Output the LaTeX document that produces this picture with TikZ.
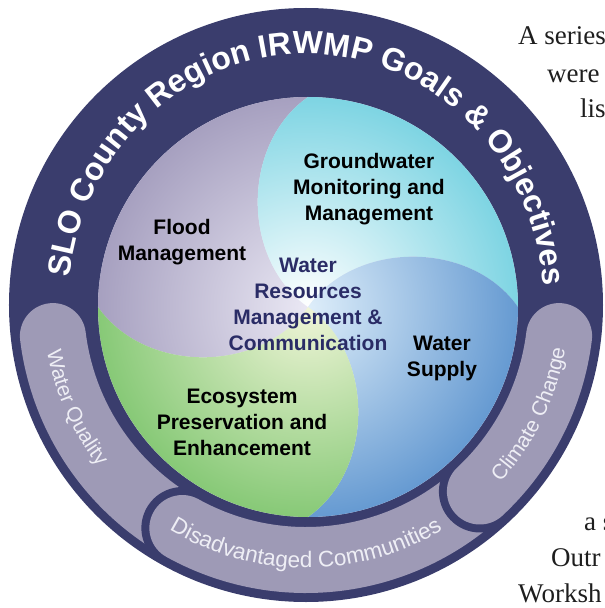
\documentclass[tikz,border=0pt]{standalone}
\usepackage{fontspec}
\setsansfont{Liberation Sans}
\newfontfamily\pagefont{Liberation Serif}
\usepackage{tikz}
\usetikzlibrary{decorations.text,positioning}

\definecolor{ringnavy}{RGB}{58,61,109}
\definecolor{bandgray}{RGB}{158,154,182}
\definecolor{bandtext}{RGB}{238,238,245}
\definecolor{floodpurple}{RGB}{128,119,162}
\definecolor{floodlight}{RGB}{234,232,244}
\definecolor{gwcyan}{RGB}{58,190,212}
\definecolor{supplyblue}{RGB}{50,118,192}
\definecolor{supplylight}{RGB}{222,238,250}
\definecolor{ecogreen}{RGB}{80,178,68}
\definecolor{ecolight}{RGB}{240,245,216}
\definecolor{centernavy}{RGB}{42,44,102}
\definecolor{pagegray}{RGB}{30,30,30}

\begin{document}
\begin{tikzpicture}[x=1pt, y=1pt,
    goal/.style={align=center, inner sep=0pt, font=\sffamily\bfseries\fontsize{21}{26}\selectfont},
    band/.style={line width=66pt, color=bandgray, line cap=round},
    bandedge/.style={line width=82pt, color=ringnavy, line cap=round},
    bandlabel/.style={decorate, decoration={text along path, text align=center,
        text color=bandtext, text={|\sffamily\fontsize{21}{21}\selectfont|#1}}},
    bodytext/.style={anchor=base west, inner sep=0pt, text=pagegray, font=\pagefont\fontsize{27}{36}\selectfont}
]
    \useasboundingbox (-306,-303) rectangle (299,305);
    \clip (-306,-303) rectangle (299,305);

    % Outer ring
    \fill[ringnavy] (0,0) circle (297);

    % Bands
    \draw[band] (187:255) arc[start angle=187, end angle=255, radius=255];
    \draw[bandedge] (241:255) arc[start angle=241, end angle=320, radius=255];
    \draw[band] (241:255) arc[start angle=241, end angle=320, radius=255];
    \draw[bandedge] (313:255) arc[start angle=313, end angle=353, radius=255];
    \draw[band] (313:255) arc[start angle=313, end angle=353, radius=255];

    % Swirl
    \coordinate (ci) at (2,-2);
    \coordinate (T) at (2,208);
    \coordinate (R) at (212,-2);
    \coordinate (B) at (2,-212);
    \coordinate (L) at (-208,-2);
    \fill[floodlight] (ci) circle (210);
    \begin{scope}
        \clip (T) to[bend right=55] (ci) to[bend left=55] (L) arc[start angle=180, end angle=90, radius=210] -- cycle;
        \shade[inner color=floodlight, outer color=floodpurple] (ci) circle (330);
    \end{scope}
    \begin{scope}
        \clip (R) to[bend right=55] (ci) to[bend left=55] (T) arc[start angle=90, end angle=0, radius=210] -- cycle;
        \shade[inner color=white, outer color=gwcyan] (ci) circle (320);
    \end{scope}
    \begin{scope}
        \clip (B) to[bend right=55] (ci) to[bend left=55] (R) arc[start angle=0, end angle=-90, radius=210] -- cycle;
        \shade[inner color=supplylight, outer color=supplyblue] (ci) circle (300);
    \end{scope}
    \begin{scope}
        \clip (L) to[bend right=55] (ci) to[bend left=55] (B) arc[start angle=-90, end angle=-180, radius=210] -- cycle;
        \shade[inner color=ecolight, outer color=ecogreen] (ci) circle (320);
    \end{scope}

    % Ring texts
    \path[decorate, decoration={text along path, text align=center, text color=white,
        text={|\sffamily\bfseries\fontsize{32}{32}\selectfont|SLO County Region IRWMP Goals {\&} Objectives}}]
        (180:238) arc[start angle=180, end angle=-2, x radius=238, y radius=251];
    \path[bandlabel={Water Quality}] (174:263) arc[start angle=174, end angle=234, radius=263];
    \path[decorate, decoration={text along path, text align=center, text color=bandtext,
        text={|\sffamily\fontsize{22.5}{22.5}\selectfont|Disadvantaged Communities}}]
        (228:263) arc[start angle=228, end angle=312, radius=263];
    \path[bandlabel={Climate Change}] (304:263) arc[start angle=304, end angle=364, radius=263];

    % Goals
    \node[goal] (flood) at (-124,63) {Flood\\Management};
    \node[goal] (ground) at (63,116) {Groundwater\\Monitoring and\\Management};
    \node[goal, text=centernavy] (wrmc) at (2,1) {Water\\Resources\\Management \&\\Communication};
    \node[goal] (supply) at (136,-53) {Water\\Supply};
    \node[goal] (eco) at (-64,-117) {Ecosystem\\Preservation and\\Enhancement};

    % Page text
    \node[bodytext] (series) at (212,260) {A series};
    \node[bodytext] (were) at (241,222) {were};
    \node[bodytext] (lis) at (274,187) {lis};
    \node[bodytext] (as) at (278,-225) {a s};
    \node[bodytext] (outr) at (245,-261) {Outr};
    \node[bodytext] (worksh) at (212,-297) {Worksh};
\end{tikzpicture}
\end{document}
